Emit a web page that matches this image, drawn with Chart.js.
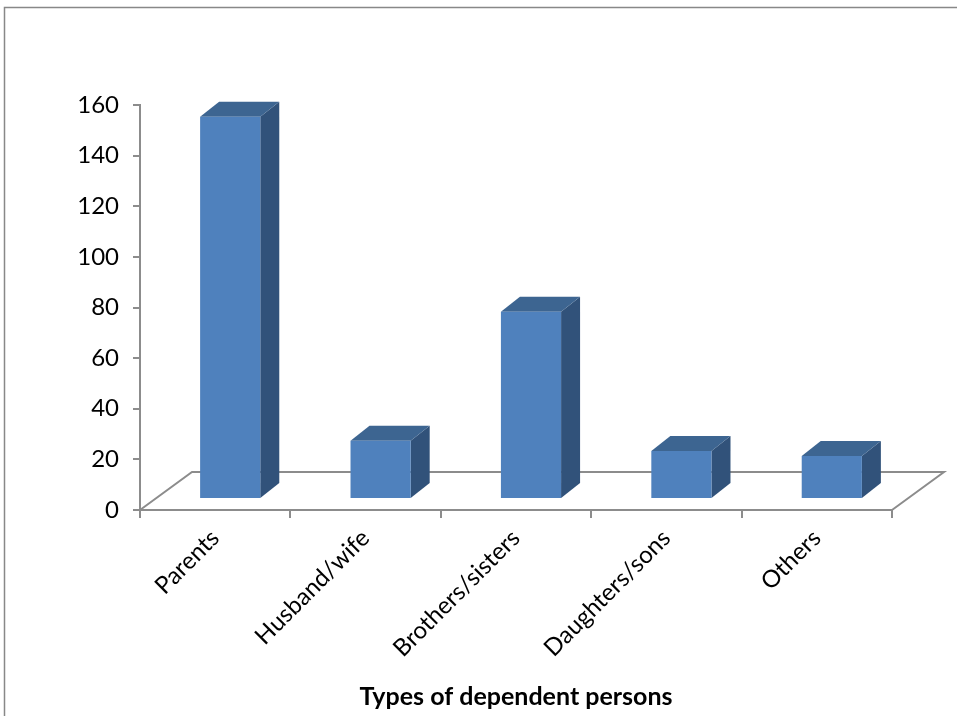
<!DOCTYPE html>
<html>
<head>
<meta charset="utf-8">
<script src="https://cdn.jsdelivr.net/npm/chart.js@4.4.1/dist/chart.umd.min.js"></script>
<style>
  html, body { margin: 0; padding: 0; background: #fff; }
  #wrap { width: 957px; height: 716px; }
</style>
</head>
<body>
<div id="wrap"><canvas id="depChart" width="957" height="716"></canvas></div>
<script>
const categories = ["Parents", "Husband/wife", "Brothers/sisters", "Daughters/sons", "Others"];
const persons = [151, 23, 74, 19, 17];
const yTicks = [0, 20, 40, 60, 80, 100, 120, 140, 160];

const AXIS = "#8c8c8c";
const FRONT = "#4f81bd";
const SIDE = "#31527a";
const TOP = "#3d6591";

// floor depth and where the bars sit inside it
const FLOOR_DX = 52, FLOOR_DY = -38;
const BAR_DX = 15, BAR_DY = -11;
const SIDE_DX = 19, SIDE_DY = -15;

const frame = {
  id: "frame",
  beforeDraw(chart) {
    const ctx = chart.ctx;
    ctx.save();
    ctx.strokeStyle = "#888";
    ctx.lineWidth = 1.5;
    ctx.beginPath();
    ctx.moveTo(4.5, 716);
    ctx.lineTo(4.5, 7.5);
    ctx.lineTo(957, 7.5);
    ctx.stroke();
    ctx.restore();
  }
};

const box3d = {
  id: "box3d",
  beforeDatasetsDraw(chart) {
    const ctx = chart.ctx;
    const a = chart.chartArea;
    // floor outline (front edge is the x axis itself)
    ctx.save();
    ctx.strokeStyle = AXIS;
    ctx.lineWidth = 2;
    ctx.beginPath();
    ctx.moveTo(a.left, a.bottom);
    ctx.lineTo(a.left + FLOOR_DX, a.bottom + FLOOR_DY);
    ctx.lineTo(a.right + FLOOR_DX, a.bottom + FLOOR_DY);
    ctx.lineTo(a.right, a.bottom);
    ctx.stroke();
    ctx.restore();

    ctx.save();
    ctx.translate(BAR_DX, BAR_DY);
    chart.getDatasetMeta(0).data.forEach((bar) => {
      const p = bar.getProps(["x", "y", "base", "width"], true);
      const l = p.x - p.width / 2, r = p.x + p.width / 2;
      ctx.fillStyle = SIDE;
      ctx.beginPath();
      ctx.moveTo(r, p.base);
      ctx.lineTo(r + SIDE_DX, p.base + SIDE_DY);
      ctx.lineTo(r + SIDE_DX, p.y + SIDE_DY);
      ctx.lineTo(r, p.y);
      ctx.closePath();
      ctx.fill();
      ctx.fillStyle = TOP;
      ctx.beginPath();
      ctx.moveTo(l, p.y);
      ctx.lineTo(l + SIDE_DX, p.y + SIDE_DY);
      ctx.lineTo(r + SIDE_DX, p.y + SIDE_DY);
      ctx.lineTo(r, p.y);
      ctx.closePath();
      ctx.fill();
    });
  },
  afterDatasetsDraw(chart) {
    chart.ctx.restore();
  }
};

new Chart(document.getElementById("depChart"), {
  type: "bar",
  data: {
    labels: categories,
    datasets: [{
      data: persons,
      backgroundColor: FRONT,
      borderWidth: 0,
      categoryPercentage: 1,
      barPercentage: 0.4
    }]
  },
  options: {
    responsive: false,
    animation: false,
    layout: { padding: { left: 0, right: 65, top: 105, bottom: 0 } },
    plugins: { legend: { display: false }, tooltip: { enabled: false } },
    scales: {
      x: {
        grid: { offset: true, drawOnChartArea: false, drawTicks: true, tickLength: 8, color: AXIS, lineWidth: 2 },
        border: { display: true, color: AXIS, width: 2 },
        ticks: { color: "#000", font: { family: "Lato", size: 24 }, minRotation: 45, maxRotation: 45, padding: 6 },
        title: {
          display: true,
          text: "Types of dependent persons",
          color: "#000",
          font: { family: "Lato", size: 25, weight: "bold" },
          padding: { top: 0, bottom: 4 }
        },
        afterFit(scale) { scale.height = 206; }
      },
      y: {
        min: 0,
        max: 160,
        afterBuildTicks(scale) { scale.ticks = yTicks.map((v) => ({ value: v })); },
        grid: { drawOnChartArea: false, drawTicks: true, tickLength: 7, color: AXIS, lineWidth: 2 },
        border: { display: true, color: AXIS, width: 2 },
        ticks: { color: "#000", font: { family: "Lato", size: 24 }, padding: 14 },
        afterFit(scale) { scale.width = 140; }
      }
    }
  },
  plugins: [frame, box3d]
});
</script>
</body>
</html>
